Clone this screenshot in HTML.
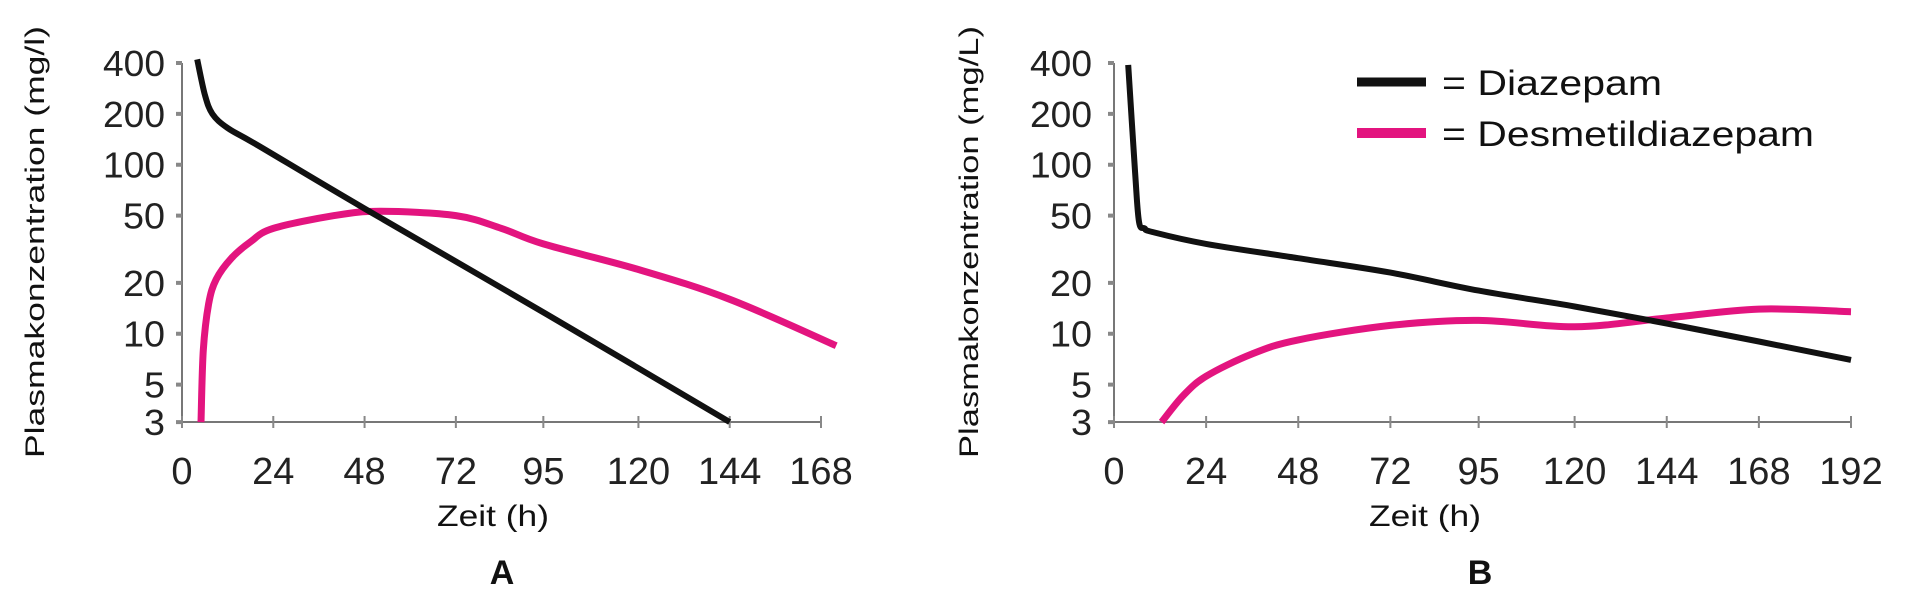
<!DOCTYPE html>
<html><head><meta charset="utf-8">
<style>
html,body{margin:0;padding:0;background:#fff;}
svg{display:block;}
text{font-family:"Liberation Sans",sans-serif;}
</style></head>
<body>
<svg id="chart" width="1920" height="612" viewBox="0 0 1920 612"></svg>
<script>
// ---- data ----
const xTicksA = [0,24,48,72,95,120,144,168];
const xTicksB = [0,24,48,72,95,120,144,168,192];
const yTicks = [400,200,100,50,20,10,5,3];
const diazepamA_t = [4,6,8,12,20,48,96,144];
const diazepamA_c = [420,260,200,165,130,55,13,3];
const desmethylA_t = [5,5.6,7,9,13,18,24,40,52,72,84,95,120,144,172];
const desmethylA_c = [3,8,15,21,28,35,42,50,53,50,42,34,24,16,8.5];
const diazepamB_t = [3.7,5.5,6.5,8,10,24,48,72,95,120,144,168,192];
const diazepamB_c = [390,90,46,42,40,34,28,23,18,14.5,11.5,9,7];
const desmethylB_t = [12.4,18,24,36,48,72,95,120,144,168,192];
const desmethylB_c = [3,4.3,5.6,7.6,9.2,11.2,12,11,12.4,14,13.5];

const NS='http://www.w3.org/2000/svg';
const svg=document.getElementById('chart');
function mk(tag,attrs,parent){const e=document.createElementNS(NS,tag);for(const k in attrs)e.setAttribute(k,attrs[k]);(parent||svg).appendChild(e);return e;}

const yTop=63, yBot=422;
function yScale(c){return yTop+(Math.log10(400)-Math.log10(c))*169;}
function pathFrom(xs,ys){
  const p=xs.map((x,i)=>[x,ys[i]]);
  let d='M'+p[0][0].toFixed(1)+','+p[0][1].toFixed(1);
  for(let i=0;i<p.length-1;i++){
    const p0=p[i-1]||p[i],p1=p[i],p2=p[i+1],p3=p[i+2]||p[i+1];
    const c1=[p1[0]+(p2[0]-p0[0])/6,p1[1]+(p2[1]-p0[1])/6];
    const c2=[p2[0]-(p3[0]-p1[0])/6,p2[1]-(p3[1]-p1[1])/6];
    d+=' C'+c1[0].toFixed(1)+','+c1[1].toFixed(1)+' '+c2[0].toFixed(1)+','+c2[1].toFixed(1)+' '+p2[0].toFixed(1)+','+p2[1].toFixed(1);
  }
  return d;
}

function panel(id,x0,x1,tmax,xTicks,yLabelRight,yTitleX,yTitle,zeitX,letterX,letter,series){
  const g=mk('g',{});
  
  
  const xScale=t=>x0+(t/tmax)*(x1-x0);
  const ax=mk('line',{x1:x0,y1:yTop,x2:x0,y2:yBot,stroke:'#777','stroke-width':2},g);
  
  
  const xa=mk('line',{x1:x0,y1:yBot,x2:x1,y2:yBot,stroke:'#777','stroke-width':2},g);
  
  
  yTicks.forEach(v=>{
    const y=yScale(v);
    mk('line',{x1:x0-6,y1:y,x2:x0,y2:y,stroke:'#888','stroke-width':4},g);
    const t=mk('text',{x:yLabelRight,y:y+13,'text-anchor':'end','font-size':36,fill:'#222',textLength:v>=100?62:(v>=10?42:21),lengthAdjust:'spacingAndGlyphs'},g);
    t.textContent=v;
    
    
  });
  xTicks.forEach(v=>{
    const x=xScale(v);
    mk('line',{x1:x,y1:yBot-6,x2:x,y2:yBot+6,stroke:'#888','stroke-width':2},g);
    const t=mk('text',{x:x,y:484,'text-anchor':'middle','font-size':38,fill:'#222'},g);
    t.textContent=v;
    
    
  });
  const yt=mk('text',{x:yTitleX,y:242,'text-anchor':'middle','font-size':27,fill:'#111',textLength:432,lengthAdjust:'spacingAndGlyphs',transform:'rotate(-90 '+yTitleX+' 242)'},g);
  yt.textContent=yTitle;
  
  
  const xt=mk('text',{x:zeitX,y:526,'text-anchor':'middle','font-size':30,fill:'#111',textLength:112,lengthAdjust:'spacingAndGlyphs'},g);
  xt.textContent='Zeit (h)';
  
  
  const lt=mk('text',{x:letterX,y:584,'text-anchor':'middle','font-size':34,'font-weight':'bold',fill:'#111'},g);
  lt.textContent=letter;
  
  
  series.forEach(s=>{
    const p=mk('path',{d:pathFrom(s.t.map(xScale),s.c.map(yScale)),fill:'none',stroke:s.color,'stroke-width':s.w,'stroke-linecap':'butt','stroke-linejoin':'round'},g);
    
    
  });
}

panel('a',182,821,168,xTicksA,165,44,'Plasmakonzentration (mg/l)',493,502,'A',[
  {t:desmethylA_t,c:desmethylA_c,color:'#e3147f',w:7,name:'desmethyldiazepam-line-a'},
  {t:diazepamA_t,c:diazepamA_c,color:'#111',w:6,name:'diazepam-line-a'}
]);
panel('b',1114,1851,192,xTicksB,1092,978,'Plasmakonzentration (mg/L)',1425,1480,'B',[
  {t:desmethylB_t,c:desmethylB_c,color:'#e3147f',w:7,name:'desmethyldiazepam-line-b'},
  {t:diazepamB_t,c:diazepamB_c,color:'#111',w:6,name:'diazepam-line-b'}
]);

// legend
const lg=mk('g',{});


const l1=mk('line',{x1:1357,y1:82,x2:1426,y2:82,stroke:'#111','stroke-width':9},lg);


const t1=mk('text',{x:1442,y:95,'font-size':35,fill:'#111',textLength:220,lengthAdjust:'spacingAndGlyphs'},lg);
t1.textContent='= Diazepam';


const l2=mk('line',{x1:1357,y1:133,x2:1426,y2:133,stroke:'#e3147f','stroke-width':10},lg);


const t2=mk('text',{x:1442,y:146,'font-size':35,fill:'#111',textLength:372,lengthAdjust:'spacingAndGlyphs'},lg);
t2.textContent='= Desmetildiazepam';


</script>
</body></html>
